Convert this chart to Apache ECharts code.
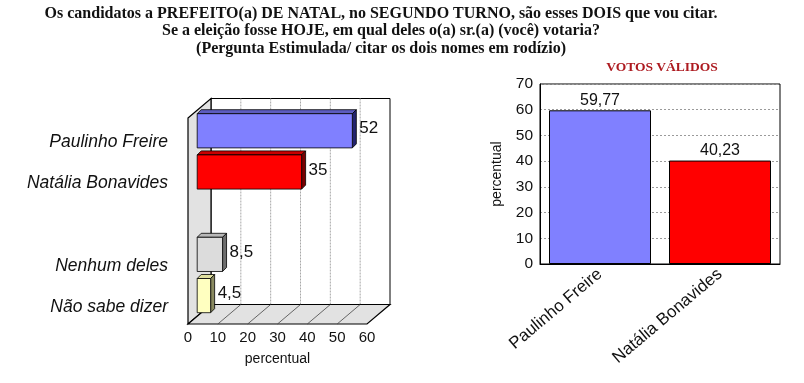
<!DOCTYPE html>
<html>
<head>
<meta charset="utf-8">
<script src="https://cdn.jsdelivr.net/npm/echarts@6/dist/echarts.min.js"></script>
<style>
html,body{margin:0;padding:0;background:#fff;}
#chart{width:804px;height:383px;}
</style>
</head>
<body>
<div id="chart"></div>
<script>
// ---------- DATA ----------
const titleLines = [
  'Os candidatos a PREFEITO(a) DE NATAL, no SEGUNDO TURNO, são esses DOIS que vou citar.',
  'Se a eleição fosse HOJE, em qual deles o(a) sr.(a) (você) votaria?',
  '(Pergunta Estimulada/ citar os dois nomes em rodízio)'
];
const leftCategories = ['Paulinho Freire', 'Natália Bonavides', '', 'Nenhum deles', 'Não sabe dizer'];
const leftValues = [52, 35, null, 8.5, 4.5];
const leftTicks = [0, 10, 20, 30, 40, 50, 60];
const leftAxisName = 'percentual';

const rightTitle = 'VOTOS VÁLIDOS';
const rightCategories = ['Paulinho Freire', 'Natália Bonavides'];
const rightValues = [59.77, 40.23];
const rightTicks = [0, 10, 20, 30, 40, 50, 60, 70];
const rightAxisName = 'percentual';

// ---------- STYLES ----------
const leftFront = ['#8080ff', '#ff0000', '#ffffff', '#dcdcdc', '#ffffc0'];
const leftTop   = ['#5c5cc0', '#c80000', '#ffffff', '#b8b8b8', '#e0e0a0'];
const leftSide  = ['#23236e', '#7a0000', '#ffffff', '#6e6e6e', '#8a8a60'];
const rightColors = ['#8080ff', '#ff0000'];

const SANS = '"Liberation Sans", Arial, sans-serif';
const SERIF = '"Liberation Serif", "DejaVu Serif", serif';
const DX = 23, DY = -19.5;          // depth of the 3D box
const BAR_SHIFT = 0.4;              // bars' front face depth fraction
const BAR_DEPTH = 4;

const fmt = v => String(v).replace('.', ',');

const leftData = [];
leftValues.forEach((v, i) => { if (v !== null) leftData.push([v, i]); });

const chart = echarts.init(document.getElementById('chart'), null, {renderer: 'canvas'});

const option = {
  animation: false,
  backgroundColor: '#ffffff',
  title: [
    {
      text: titleLines.join('\n'),
      left: 381, top: 5, textAlign: 'center', padding: 0,
      textStyle: {fontFamily: SERIF, fontWeight: 'bold', fontSize: 16, lineHeight: 17.5, color: '#111'}
    },
    {
      text: rightTitle,
      left: 662, top: 61, textAlign: 'center', padding: 0,
      textStyle: {fontFamily: SERIF, fontWeight: 'bold', fontSize: 13.5, color: '#ad1a20'}
    }
  ],
  grid: [
    {left: 188, top: 118, width: 179, height: 206, show: false},
    {left: 540, top: 84, width: 240, height: 180, show: true, borderColor: '#000', borderWidth: 1, backgroundColor: '#fff'}
  ],
  xAxis: [
    {
      gridIndex: 0, type: 'value', min: leftTicks[0], max: leftTicks[leftTicks.length - 1], interval: 10,
      axisLine: {show: false}, axisTick: {show: false}, splitLine: {show: false},
      axisLabel: {fontFamily: SANS, fontSize: 15, color: '#111', margin: 6},
      name: leftAxisName, nameLocation: 'middle', nameGap: 28,
      nameTextStyle: {fontFamily: SANS, fontSize: 14, color: '#111'}
    },
    {
      gridIndex: 1, type: 'category', data: rightCategories,
      axisLine: {show: true, lineStyle: {color: '#000'}}, axisTick: {show: false},
      axisLabel: {fontFamily: SANS, fontSize: 17, color: '#111', rotate: 40, margin: 8, interval: 0}
    }
  ],
  yAxis: [
    {
      gridIndex: 0, type: 'category', data: leftCategories, inverse: true,
      axisLine: {show: false}, axisTick: {show: false}, splitLine: {show: false},
      axisLabel: {
        margin: 20,
        formatter: v => v ? '{a|' + v + '}' : '',
        rich: {a: {fontFamily: SANS, fontSize: 17.5, fontStyle: 'italic', color: '#111', padding: [7, 0, 0, 0]}}
      }
    },
    {
      gridIndex: 1, type: 'value', min: rightTicks[0], max: rightTicks[rightTicks.length - 1], interval: 10,
      axisLine: {show: true, lineStyle: {color: '#000'}}, axisTick: {show: false},
      splitLine: {show: true, lineStyle: {color: '#9a9a9a', type: [2, 2], width: 1}},
      axisLabel: {fontFamily: SANS, fontSize: 15.5, color: '#111', margin: 7},
      name: rightAxisName, nameLocation: 'middle', nameGap: 36, nameRotate: 90,
      nameTextStyle: {fontFamily: SANS, fontSize: 14, color: '#111'}
    }
  ],
  series: [
    // 3D box frame of the left chart
    {
      type: 'custom', xAxisIndex: 0, yAxisIndex: 0, z: 1, silent: true,
      data: [[0, 0]],
      renderItem: function (params, api) {
        const cs = params.coordSys;
        const x0 = cs.x, x1 = cs.x + cs.width, yT = cs.y, yB = cs.y + cs.height;
        const kids = [];
        kids.push({type: 'rect', shape: {x: x0 + DX, y: yT + DY, width: x1 - x0, height: yB - yT},
          style: {fill: '#ffffff', stroke: '#000', lineWidth: 1}});
        leftTicks.slice(1, -1).forEach(t => {
          const x = api.coord([t, 0])[0] + DX;
          kids.push({type: 'line', shape: {x1: x, y1: yT + DY, x2: x, y2: yB + DY},
            style: {stroke: '#a8a8a8', lineWidth: 1, lineDash: [2, 1]}});
        });
        kids.push({type: 'polygon', shape: {points: [[x0, yT], [x0 + DX, yT + DY], [x0 + DX, yB + DY], [x0, yB]]},
          style: {fill: '#e2e2e2', stroke: '#000', lineWidth: 1.2}});
        kids.push({type: 'polygon', shape: {points: [[x0, yB], [x0 + DX, yB + DY], [x1 + DX, yB + DY], [x1, yB]]},
          style: {fill: '#e2e2e2', stroke: '#000', lineWidth: 1.2}});
        leftTicks.slice(1, -1).forEach(t => {
          const x = api.coord([t, 0])[0];
          kids.push({type: 'line', shape: {x1: x, y1: yB, x2: x + DX, y2: yB + DY},
            style: {stroke: '#444', lineWidth: 0.8}});
        });
        return {type: 'group', children: kids};
      }
    },
    // 3D bars of the left chart
    {
      type: 'custom', xAxisIndex: 0, yAxisIndex: 0, z: 3,
      encode: {x: 0, y: 1},
      data: leftData,
      renderItem: function (params, api) {
        const v = api.value(0), c = api.value(1);
        const p0 = api.coord([0, c]);
        const p1 = api.coord([v, c]);
        const band = api.size([0, 1])[1];
        const h = band * 0.83;
        const sx = DX * BAR_SHIFT, sy = DY * BAR_SHIFT;
        const xL = p0[0] + sx, xR = p1[0] + sx;
        const yTop = p0[1] + sy - h / 2, yBot = yTop + h;
        const bd = BAR_DEPTH;
        return {type: 'group', children: [
          {type: 'polygon', shape: {points: [[xL, yTop], [xL + bd, yTop - bd], [xR + bd, yTop - bd], [xR, yTop]]},
            style: {fill: leftTop[c], stroke: '#000', lineWidth: 0.8}},
          {type: 'polygon', shape: {points: [[xR, yTop], [xR + bd, yTop - bd], [xR + bd, yBot - bd], [xR, yBot]]},
            style: {fill: leftSide[c], stroke: '#000', lineWidth: 0.8}},
          {type: 'rect', shape: {x: xL, y: yTop, width: xR - xL, height: h},
            style: {fill: leftFront[c], stroke: '#000', lineWidth: 0.8}},
          {type: 'text', x: xR + bd + 3, y: (yTop + yBot) / 2 - 2,
            style: {text: fmt(v), fill: '#111', font: '17px ' + SANS, verticalAlign: 'middle', align: 'left'}}
        ]};
      }
    },
    // right chart bars
    {
      type: 'bar', xAxisIndex: 1, yAxisIndex: 1, z: 3,
      barCategoryGap: '15%',
      data: rightValues.map((v, i) => ({value: v, itemStyle: {color: rightColors[i]}})),
      itemStyle: {borderColor: '#000', borderWidth: 1},
      label: {show: true, position: 'top', distance: 2, formatter: p => fmt(p.value),
        fontFamily: SANS, fontSize: 16, color: '#111'}
    }
  ]
};
chart.setOption(option);
</script>
</body>
</html>
